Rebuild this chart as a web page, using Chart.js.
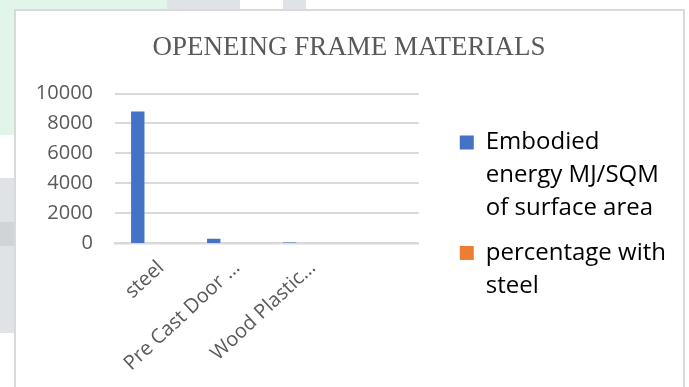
<!DOCTYPE html>
<html>
<head>
<meta charset="utf-8">
<script src="https://cdn.jsdelivr.net/npm/chart.js@4.4.1/dist/chart.umd.min.js"></script>
<style>
  html, body { margin: 0; padding: 0; background: #ffffff; }
  body { width: 689px; height: 387px; overflow: hidden; }
  #chart { display: block; }
</style>
</head>
<body>
<canvas id="chart" width="689" height="387"></canvas>

<script>
// Opening frame materials: embodied energy per square metre of surface
const categories = ['steel', 'Pre Cast Door \u2026', 'Wood Plastic\u2026', ''];
const seriesNames = ['Embodied energy MJ/SQM of surface area', 'percentage with steel'];
const embodiedEnergy = [8800, 280, 35, null];
const percentWithSteel = [1, 0.032, 0.004, null];
// third column of the source table is empty but still holds its slot in each group
const emptyColumn = [];
const yTicks = [0, 2000, 4000, 6000, 8000, 10000];

const BLUE = '#4472c4';
const ORANGE = '#ed7d31';
const LEGEND_FONT = { family: "'Open Sans'", size: 24, lineHeight: 33 / 24 };

// break a legend label into lines no wider than maxWidth
function wrapWords(ctx, text, maxWidth) {
  const words = text.split(' ');
  const lines = [];
  let line = '';
  for (const w of words) {
    const test = line ? line + ' ' + w : w;
    if (line && ctx.measureText(test).width > maxWidth) {
      lines.push(line);
      line = w;
    } else {
      line = test;
    }
  }
  lines.push(line);
  return lines;
}

// framed white chart panel
const FRAME = { x: 15, y: 10, w: 669, h: 400 };

// page backdrop around the panel, then the panel itself
const pageBackdrop = {
  id: 'pageBackdrop',
  beforeDraw(chart) {
    const ctx = chart.ctx;
    ctx.save();
    ctx.fillStyle = '#ffffff';
    ctx.fillRect(0, 0, chart.width, chart.height);

    // paint the backdrop only outside the panel
    ctx.save();
    ctx.beginPath();
    ctx.rect(0, 0, chart.width, chart.height);
    ctx.rect(FRAME.x, FRAME.y, FRAME.w, FRAME.h);
    ctx.clip('evenodd');
    ctx.fillStyle = '#e1f5ea';
    ctx.fillRect(0, 0, 168, 12);
    ctx.fillRect(0, 0, 16, 135);
    ctx.fillStyle = '#dfe3e7';
    ctx.fillRect(167, 0, 73, 12);
    ctx.fillRect(283, 0, 23, 12);
    ctx.fillRect(0, 178, 16, 155);
    ctx.fillStyle = '#cfd4d9';
    ctx.fillRect(0, 222, 16, 24);
    ctx.restore();

    ctx.strokeStyle = '#d9d9d9';
    ctx.lineWidth = 2;
    ctx.strokeRect(FRAME.x, FRAME.y, FRAME.w, FRAME.h);
    ctx.restore();
  }
};

new Chart(document.getElementById('chart'), {
  type: 'bar',
  data: {
    labels: categories,
    datasets: [
      { label: seriesNames[0], data: embodiedEnergy, backgroundColor: BLUE },
      { label: seriesNames[1], data: percentWithSteel, backgroundColor: ORANGE },
      { label: '', data: emptyColumn, backgroundColor: '#a5a5a5' }
    ]
  },
  plugins: [pageBackdrop],
  options: {
    responsive: false,
    animation: false,
    devicePixelRatio: 1,
    datasets: {
      bar: { categoryPercentage: 0.6, barPercentage: 0.88, borderWidth: 0, inflateAmount: 0 }
    },
    layout: { padding: { left: 22, right: 13, top: 10, bottom: 10 } },
    plugins: {
      tooltip: { enabled: false },
      title: {
        display: true,
        text: 'OPENEING FRAME MATERIALS',
        color: '#595959',
        font: { family: "'Liberation Serif', serif", size: 27, weight: 'normal', lineHeight: 1.2 },
        padding: { top: 22, bottom: 29.1 }
      },
      legend: {
        position: 'right',
        align: 'start',
        maxWidth: 240,
        // empty legend title keeps the entries clear of the chart title
        title: { display: true, text: '', font: { size: 12, lineHeight: 1 }, padding: { top: 97, bottom: 0 } },
        labels: {
          boxWidth: 14,
          boxHeight: 14,
          padding: 11.5,
          color: '#000000',
          font: LEGEND_FONT,
          generateLabels(chart) {
            const items = Chart.defaults.plugins.legend.labels.generateLabels(chart);
            const ctx = chart.ctx;
            ctx.save();
            ctx.font = LEGEND_FONT.size + 'px ' + LEGEND_FONT.family;
            items.forEach(it => { it.text = wrapWords(ctx, it.text, 188); });
            ctx.restore();
            return items;
          },
          filter: (item, data) => data.datasets[item.datasetIndex].label !== ''
        }
      }
    },
    scales: {
      x: {
        z: 1, // baseline drawn over the foot of the bars
        grid: { display: false, drawTicks: false },
        border: { display: true, color: '#d9d9d9', width: 2.5 },
        ticks: {
          color: '#595959',
          font: { family: "'Open Sans'", size: 20 },
          minRotation: 43,
          maxRotation: 43,
          autoSkip: false,
          padding: 13,
          labelOffset: 8
        },
        afterFit(s) { s.height = 134; }
      },
      y: {
        min: yTicks[0],
        max: yTicks[yTicks.length - 1],
        grid: {
          color: '#d9d9d9',
          // the zero line comes from the x-axis baseline
          lineWidth: c => (c.tick && c.tick.value === 0 ? 0 : 2),
          drawTicks: false
        },
        border: { display: false },
        ticks: {
          color: '#595959',
          font: { family: "'Open Sans'", size: 20 },
          padding: 22,
          callback: v => String(v)
        },
        afterBuildTicks(s) { s.ticks = yTicks.map(v => ({ value: v })); },
        afterFit(s) { s.width = 93; }
      },
      // blank strip between the plot and the legend
      gap: {
        position: 'right',
        display: true,
        grid: { display: false },
        border: { display: false },
        ticks: { display: false },
        afterFit(s) { s.width = 29.5; }
      }
    }
  }
});
</script>
</body>
</html>
